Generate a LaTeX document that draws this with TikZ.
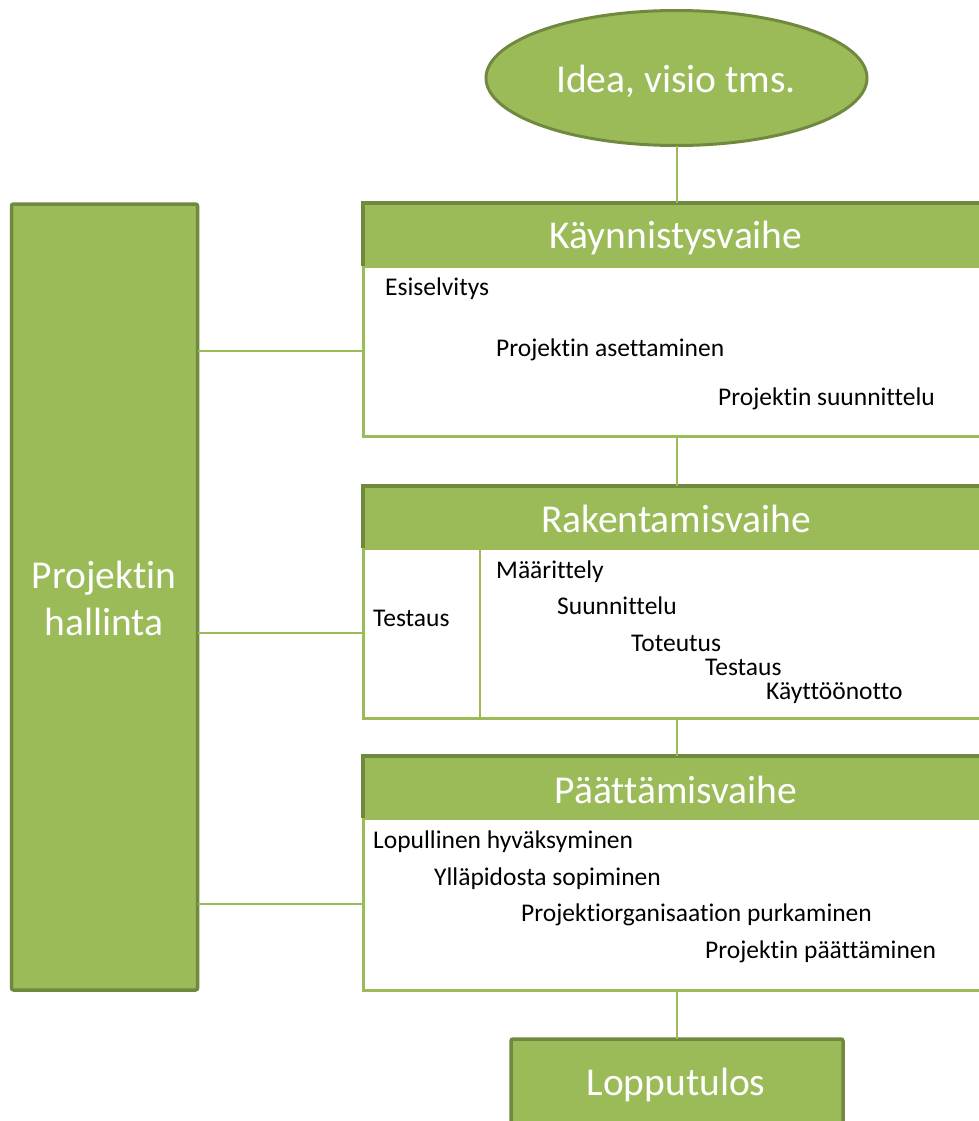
\documentclass[tikz,border=0pt]{standalone}
\usepackage{fontspec}
\setmainfont{Carlito}[Ligatures=NoCommon]
\usetikzlibrary{shapes.geometric}
\definecolor{leaf}{HTML}{9BBB59}
\definecolor{leafdark}{HTML}{71893F}
\tikzset{
  filled/.style={fill=leaf, draw=leafdark, line width=3.5pt, rounded corners=2pt, outer sep=0pt},
  headbar/.style={fill=leaf, draw=none, inner sep=0pt, outer sep=0pt},
  bodybox/.style={draw=leaf, line width=3pt, fill=white, inner sep=0pt, outer sep=0pt},
  wire/.style={draw=leaf, line width=2pt},
  bigtext/.style={text=white, font=\fontsize{39.5}{46}\selectfont, align=center},
  item/.style={anchor=mid west, inner sep=0pt, yshift=-4pt, font=\fontsize{25.5}{29}\selectfont},
}
\begin{document}
\begin{tikzpicture}[x=1pt, y=-1pt]
\useasboundingbox (0,0) rectangle (979,1121);
\clip (0,0) rectangle (979,1121);

% start and end
\node[ellipse, fill=leaf, draw=leafdark, line width=3pt, outer sep=0pt, minimum width=381pt, minimum height=135pt, inner sep=0pt] (idea) at (676.5,78) {};
\node[bigtext] at (676,81) {Idea, visio tms.};

\node[filled, anchor=north west, minimum width=332pt, minimum height=120pt, inner sep=0pt] (tulos) at (511,1039) {};
\node[bigtext] at (676,1085) {Lopputulos};

% project management column
\node[filled, anchor=north west, minimum width=186pt, minimum height=786pt, inner sep=0pt] (hallinta) at (11.5,204) {};
\node[bigtext, font=\fontsize{39.5}{47}\selectfont] at (104,598) {Projektin\\hallinta};

% phase 1
\node[bodybox, anchor=north west, minimum width=640pt, minimum height=170pt] (kbody) at (363,266) {};
\node[headbar, anchor=north west, minimum width=640pt, minimum height=63pt] (khead) at (363,203) {};
\draw[leafdark, line width=3.5pt] (khead.south west) -- (khead.north west) -- (khead.north east);
\node[bigtext] at (676,238) {Käynnistysvaihe};
\node[item] at (385,289) {Esiselvitys};
\node[item] at (496,350) {Projektin asettaminen};
\node[item] at (718,399) {Projektin suunnittelu};

% phase 2
\node[bodybox, anchor=north west, minimum width=640pt, minimum height=170pt] (rbody) at (363,548) {};
\node[headbar, anchor=north west, minimum width=640pt, minimum height=62pt] (rhead) at (363,486) {};
\draw[leafdark, line width=3.5pt] (rhead.south west) -- (rhead.north west) -- (rhead.north east);
\node[bigtext] at (676,519) {Rakentamisvaihe};
\coordinate (rsplit) at (480,548);
\draw[wire] (rsplit) -- (rsplit |- rbody.south);
\node[item] at (373,620) {Testaus};
\node[item] at (496,572) {Määrittely};
\node[item] at (557,608) {Suunnittelu};
\node[item] at (631,645) {Toteutus};
\node[item] at (705,669) {Testaus};
\node[item] at (766,693) {Käyttöönotto};

% phase 3
\node[bodybox, anchor=north west, minimum width=640pt, minimum height=172pt] (pbody) at (363,818) {};
\node[headbar, anchor=north west, minimum width=640pt, minimum height=62pt] (phead) at (363,756) {};
\draw[leafdark, line width=3.5pt] (phead.south west) -- (phead.north west) -- (phead.north east);
\node[bigtext] at (676,790) {Päättämisvaihe};
\node[item] at (373,842) {Lopullinen hyväksyminen};
\node[item] at (434,879) {Ylläpidosta sopiminen};
\node[item] at (521,915) {Projektiorganisaation purkaminen};
\node[item] at (705,952) {Projektin päättäminen};

% connectors
\draw[wire] (idea.south) -- (idea.south |- khead.north);
\draw[wire] (idea.south |- kbody.south) -- (idea.south |- rhead.north);
\draw[wire] (idea.south |- rbody.south) -- (idea.south |- phead.north);
\draw[wire] (idea.south |- pbody.south) -- (idea.south |- tulos.north);
\draw[wire] (hallinta.east |- kbody.west) -- (kbody.west);
\draw[wire] (hallinta.east |- rbody.west) -- (rbody.west);
\draw[wire] (hallinta.east |- pbody.west) -- (pbody.west);
\end{tikzpicture}
\end{document}
